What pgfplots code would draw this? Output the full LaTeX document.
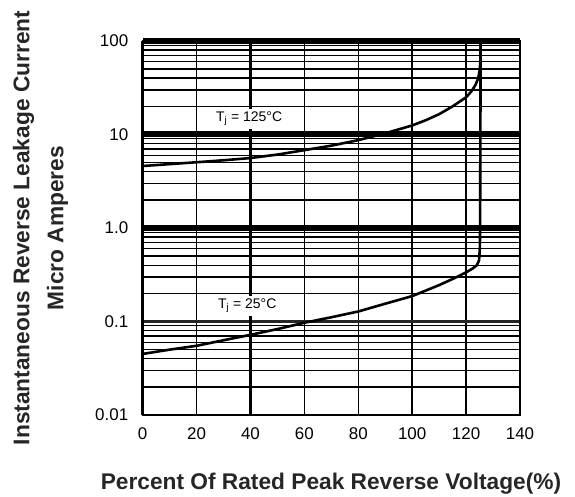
\documentclass[border=0pt]{standalone}
\usepackage{fontspec}
\setmainfont{Liberation Sans}
\usepackage{pgfplots}
\pgfplotsset{compat=1.18}
\definecolor{lab}{RGB}{38,38,38}
\begin{document}
\begin{tikzpicture}
\begin{axis}[
  scale only axis,
  width=377.3bp, height=374bp,
  xmin=0, xmax=140, ymin=0.01, ymax=100,
  ymode=log,
  clip=false,
  xtick={0,20,40,60,80,100,120,140},
  xticklabels={0,20,40,60,80,100,120,140},
  ytick={0.01,0.1,1,10,100},
  yticklabels={0.01,0.1,1.0,10,100},
  minor ytick={0.02,0.03,0.04,0.05,0.06,0.07,0.08,0.09,0.2,0.3,0.4,0.5,0.6,0.7,0.8,0.9,2,3,4,5,6,7,8,9,20,30,40,50,60,70,80,90},
  major tick length=0pt, minor tick length=0pt,
  grid=both,
  major grid style={black, line width=1.5bp},
  minor grid style={black, line width=1.4bp},
  axis line style={black, line width=1.3bp},
  tick label style={font=\fontsize{17}{20}\selectfont, black},
  xticklabel style={yshift=-9bp},
  yticklabel style={xshift=-11bp},
  xlabel={Percent Of Rated Peak Reverse Voltage(\%)},
  ylabel={Instantaneous Reverse Leakage Current\\[9bp]Micro Amperes},
  label style={font=\fontsize{22.8}{25}\selectfont\bfseries, text=lab},
  xlabel style={at={(axis description cs:0.499,-0.1845)}, anchor=center},
  ylabel style={at={(axis description cs:-0.271,0.5)}, anchor=center, align=center},
]
% decade lines
\draw[line width=6bp] (axis cs:0,100) -- (axis cs:140,100);
\draw[line width=6bp] (axis cs:0,10) -- (axis cs:140,10);
\draw[line width=6bp] (axis cs:0,1) -- (axis cs:140,1);
\draw[line width=3.4bp, black!85] (axis cs:0,0.1) -- (axis cs:140,0.1);
\draw[line width=3bp] (axis cs:0,0.01) -- (axis cs:0,100);
\draw[line width=2.5bp] (axis cs:40,0.01) -- (axis cs:40,100);
\draw[line width=1.8bp] (axis cs:140,0.01) -- (axis cs:140,100);
% Tj = 125 C
\addplot[black, line width=2.6bp] coordinates {
(0,4.6) (10,4.82) (20,5.05) (30,5.3) (40,5.6) (50,6.1) (60,6.8) (70,7.6)
(80,8.7) (90,10.3) (100,12.5) (105,14.2) (110,16.5) (115,20) (120,25)
(122,29) (123.5,34) (124.5,40) (125,48) (125.3,60) (125.4,100)};
% Tj = 25 C
\addplot[black, line width=2.6bp] coordinates {
(0,0.045) (10,0.05) (20,0.055) (30,0.063) (40,0.072) (50,0.083) (60,0.097)
(70,0.111) (80,0.128) (90,0.155) (100,0.187) (110,0.245) (115,0.285)
(120,0.335) (122.5,0.37) (124,0.40) (124.8,0.45) (125.1,0.6) (125.2,1) (125.4,100)};
\node[fill=white, inner sep=3bp, font=\fontsize{14}{16}\selectfont] at (axis cs:39.5,14.8) {T\textsubscript{j} = 125°C};
\node[fill=white, inner sep=3bp, font=\fontsize{14}{16}\selectfont] at (axis cs:38.8,0.148) {T\textsubscript{j} = 25°C};
\end{axis}
\pgfresetboundingbox
\path (-142.7bp,-82bp) rectangle (432.3bp,415bp);
\end{tikzpicture}
\end{document}
